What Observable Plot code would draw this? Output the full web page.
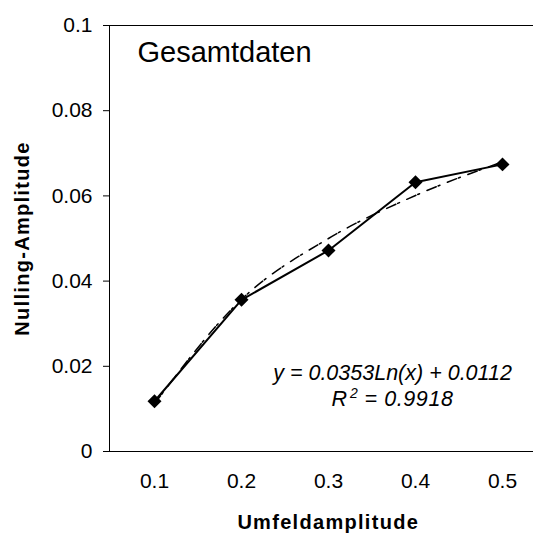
<!DOCTYPE html>
<html><head><meta charset="utf-8">
<script src="https://cdn.jsdelivr.net/npm/d3@7"></script>
<script src="https://cdn.jsdelivr.net/npm/@observablehq/plot@0.6"></script>
<style>html,body{margin:0;padding:0;background:#fff} #chart svg{display:block;overflow:hidden}</style>
</head><body><div id="chart"></div>
<script>
const categories = ["0.1", "0.2", "0.3", "0.4", "0.5"];
const nulling = [0.0118, 0.0356, 0.0472, 0.0632, 0.0674];
const trend = [0.0112, 0.0357, 0.0500, 0.0601, 0.0680];
const yTicks = [0, 0.02, 0.04, 0.06, 0.08, 0.1];
const title = "Gesamtdaten";
const equation = "y = 0.0353Ln(x) + 0.0112";
const rSquared = "R² = 0.9918";
const xLabel = "Umfeldamplitude";
const yLabel = "Nulling-Amplitude";

const data = categories.map((c, i) => ({c, v: nulling[i], t: trend[i]}));
const font = "'Liberation Sans', Arial, sans-serif";

const chart = Plot.plot({
  width: 533, height: 533,
  marginLeft: 109, marginTop: 25, marginBottom: 82, marginRight: -13.5,
  style: {fontFamily: font, fontSize: "21px", color: "black", background: "white", overflow: "hidden"},
  x: {type: "point", domain: categories, padding: 0.5},
  y: {domain: [0, 0.1]},
  marks: [
    Plot.frame({stroke: "black", strokeWidth: 1}),
    Plot.axisY({ticks: yTicks, tickSize: 6, tickPadding: 11, label: null, fontSize: 21, tickFormat: d => String(d)}),
    Plot.axisX({tickSize: 0, tickPadding: 22, label: null, fontSize: 21}),
    Plot.line(data, {x: "c", y: "t", curve: "monotone-x", stroke: "black", strokeWidth: 1.5, strokeDasharray: "10,2,2,8"}),
    Plot.line(data, {x: "c", y: "v", stroke: "black", strokeWidth: 2}),
    Plot.dot(data, {x: "c", y: "v", symbol: "diamond2", r: 6.3, fill: "black", stroke: "none"}),
    Plot.text([title], {frameAnchor: "top-left", lineAnchor: "bottom", dx: 28, dy: 36, fontSize: 29}),
    Plot.text([equation], {frameAnchor: "top-left", textAnchor: "middle", lineAnchor: "bottom", dx: 283, dy: 354, fontSize: 21.5, fontStyle: "italic"}),
    Plot.text([rSquared], {frameAnchor: "top-left", textAnchor: "middle", lineAnchor: "bottom", dx: 283, dy: 380, fontSize: 21.5, fontStyle: "italic"}),
    Plot.text([xLabel], {frameAnchor: "bottom", lineAnchor: "bottom", dy: 77, fontSize: 20, fontWeight: "bold"}),
    Plot.text([yLabel], {frameAnchor: "left", textAnchor: "middle", rotate: -90, dx: -87, fontSize: 20, fontWeight: "bold"})
  ]
});
d3.select(chart).selectAll("text")
  .filter(function() { return this.textContent === xLabel || this.textContent === yLabel; })
  .attr("letter-spacing", "1.3px");
// Render R² with a larger raised "2" like the original
d3.select(chart).selectAll("text")
  .filter(function() { return this.textContent === rSquared; })
  .each(function() {
    const t = d3.select(this);
    const parts = rSquared.split("²");
    t.text(null);
    t.append("tspan").text(parts[0]);
    t.append("tspan").attr("font-size", "14px").attr("dy", "-8").attr("dx", "3").text("2");
    t.append("tspan").attr("dy", "8").attr("letter-spacing", "0.6px").text(parts[1]);
  });
document.getElementById("chart").appendChild(chart);
</script>
</body></html>
